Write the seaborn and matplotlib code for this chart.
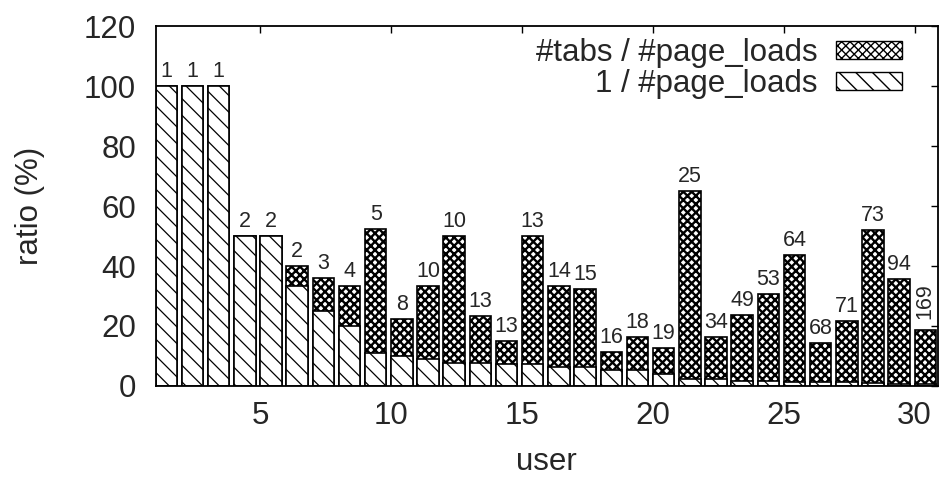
import numpy as np
import pandas as pd
import seaborn as sns
from matplotlib import pyplot as plt
from matplotlib.patches import Patch

# values
users = list(range(1, 31))
tabs_ratio = [100, 100, 100, 50, 50, 40, 35.9, 33.3, 52.2, 22.2,
              33.3, 50, 23.3, 15, 50, 33.3, 32.2, 11.3, 16.4, 12.6,
              65, 16.2, 23.7, 30.6, 43.6, 14.2, 21.6, 52, 35.6, 18.7]
loads_ratio = [100, 100, 100, 50, 50, 33.3, 25, 20, 11.1, 10,
               9.1, 7.8, 7.8, 7.2, 7.2, 6.2, 6.2, 5.3, 5.3, 3.9,
               2.3, 2.3, 1.8, 1.8, 1.4, 1.3, 1.3, 1.0, 0.8, 0.6]
bar_labels = ['1', '1', '1', '2', '2', '2', '3', '4', '5', '8',
              '10', '10', '13', '13', '13', '14', '15', '16', '18', '19',
              '25', '34', '49', '53', '64', '68', '71', '73', '94', '169']

sns.set_style('white')
plt.rcParams['font.family'] = ['Liberation Sans', 'DejaVu Sans']

df = pd.DataFrame({'user': users, 'tabs': tabs_ratio, 'loads': loads_ratio})
df['pos'] = df['user'] + 0.41

fig = plt.figure(figsize=(9.4, 4.78), dpi=100)
ax = fig.add_axes([0.1655, 0.1925, 0.832, 0.753])

with plt.rc_context({'hatch.linewidth': 1.7}):
    sns.barplot(data=df, x='pos', y='tabs', native_scale=True, width=0.82,
                errorbar=None, color='white', edgecolor='black', linewidth=1.2,
                hatch='xxxx', ax=ax)
    h_tabs = Patch(facecolor='white', edgecolor='black', hatch='xxxx',
                   label='#tabs / #page_loads')
with plt.rc_context({'hatch.linewidth': 0.9}):
    sns.barplot(data=df, x='pos', y='loads', native_scale=True, width=0.82,
                errorbar=None, color='white', edgecolor='black', linewidth=1.2,
                hatch='\\\\', ax=ax)
    h_loads = Patch(facecolor='white', edgecolor='black', hatch='\\\\',
                    label='1 / #page_loads')

for i, row in df.iterrows():
    if bar_labels[i] == '169':
        ax.annotate(bar_labels[i], (row['pos'], row['tabs']), xytext=(0, 8),
                    textcoords='offset points', ha='center', va='bottom',
                    rotation=90, fontsize=15.5)
    else:
        ax.annotate(bar_labels[i], (row['pos'], row['tabs']), xytext=(0, 3),
                    textcoords='offset points', ha='center', va='bottom',
                    fontsize=15.5)

ax.set_xlim(1, 30.88)
ax.set_ylim(0, 120)
ax.set_xticks([5, 10, 15, 20, 25, 30])
ax.set_yticks(np.arange(0, 121, 20))
ax.tick_params(direction='in', length=5, width=1, top=True, right=True,
               labelsize=22.5, color='black')
ax.tick_params(axis='x', pad=11)
ax.tick_params(axis='y', pad=14)
for s in ax.spines.values():
    s.set_color('black')
    s.set_linewidth(1.3)

ax.set_xlabel('user', fontsize=22.5, labelpad=11)
ax.set_ylabel('ratio (%)', fontsize=22.5, labelpad=28)

ax.legend(handles=[h_tabs, h_loads], loc='upper right', frameon=False, markerfirst=False,
          fontsize=22.5, handlelength=2.1, handleheight=0.5, labelspacing=0.02,
          handletextpad=0.6, borderaxespad=0.1, bbox_to_anchor=(0.974, 1.01))

fig.savefig('out.png', dpi=100)
